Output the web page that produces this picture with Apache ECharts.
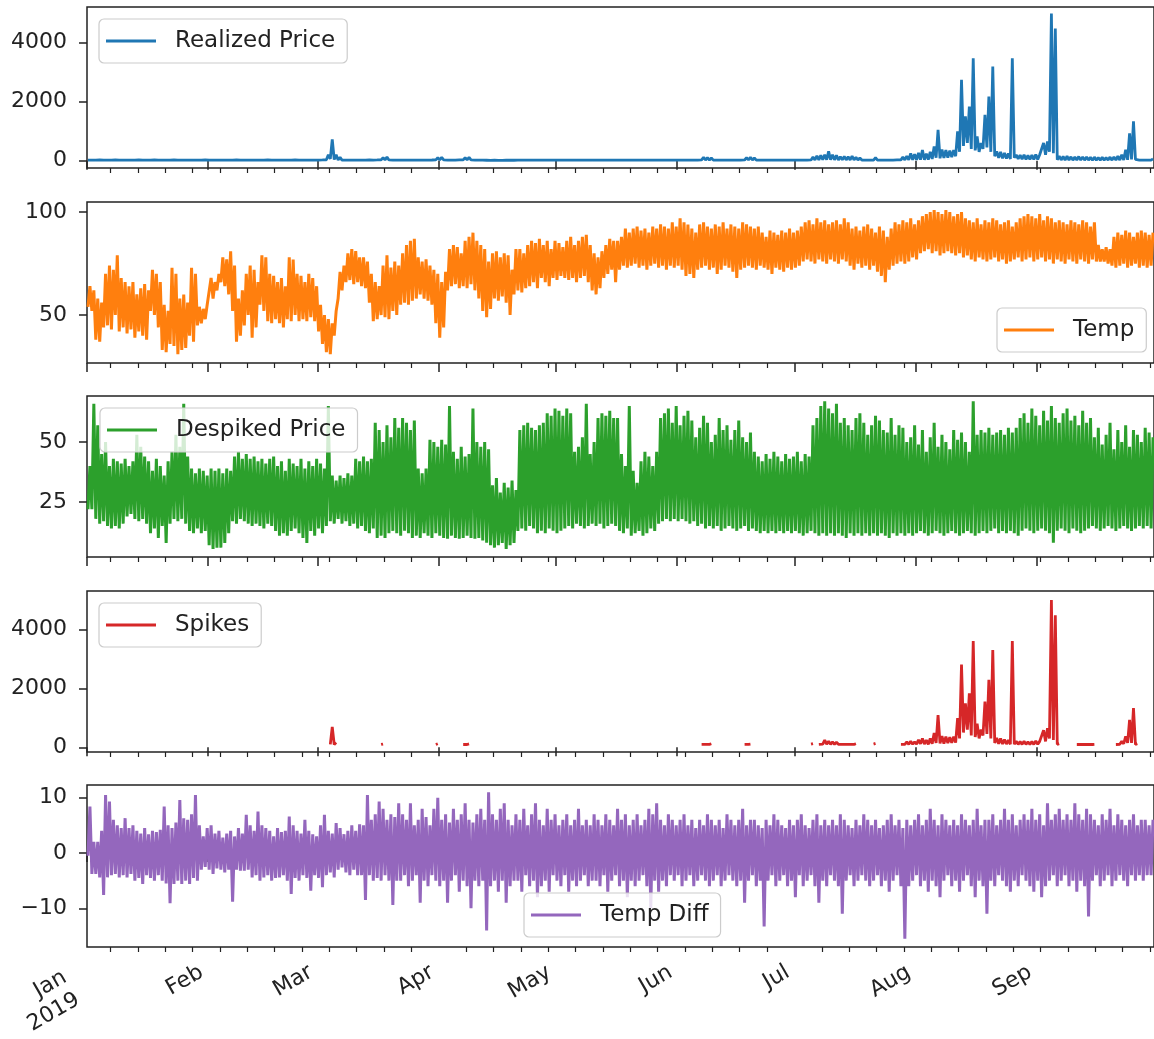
<!DOCTYPE html>
<html><head><meta charset="utf-8">
<script src="https://cdn.jsdelivr.net/npm/echarts@6/dist/echarts.min.js"></script>
<style>html,body{margin:0;padding:0;background:#fff}#c{width:1154px;height:1039px}</style>
</head><body><div id="c"></div>
<script>
// ---- axis ticks (day index from 1 Jan 2019) ----
const monthDays = [0,31,59,90,120,151,181,212,243];
const monthLabels = ['Jan\n2019','Feb','Mar','Apr','May','Jun','Jul','Aug','Sep'];
const firstMonday = 6;
const lastDay = 273;

// ---- Realized Price: daily low / high ----
const priceLo = [20,18,22,25,19,17,21,24,20,18, 22,19,17,23,20,18,21,25,22,19, 18,20,23,21,19,17,22,20,18,21,
24,20,18,19,22,21,18,20,23,19, 17,20,22,18,21,19,23,20,18,22, 20,18,21,23,19,17,20,22,19,21,
25,30,60,40,25,20,18,21,19,22, 20,18,23,21,24,28,30,25,20,19, 18,21,20,19,22,20,18,21,23,26,
28,24,20,19,22,25,28,30,24,20, 18,16,14,12,15,13,12,14,16,15, 17,18,16,19,18,17,19,18,20,17,
18,19,17,18,20,19,18,17,19,18, 17,18,19,18,17,19,20,18,17,18, 19,18,17,18,19,20,18,19,20,18,
19,18,19,20,21,19,22,25,24,22, 20,19,18,20,21,19,18,20,24,25, 22,20,19,18,20,19,18,20,19,18,
19,20,18,19,20,24,26,28,30,32, 30,28,26,28,27,26,24,22,21,20, 19,22,20,19,18,20,22,24,26,28,
30,32,30,35,32,34,60,100,80,90, 100,120,150,300,500,600,400,350,300,400, 450,300,150,100,80,70,60,100,60,50,
45,40,42,45,150,200,300,250,30,25, 20,21,19,20,18,19,20,18,19,20, 19,20,18,19,21,25,30,40,45,22, 20,19,18];
const priceHi = [70,60,55,65,60,70,58,62,66,60, 58,65,70,62,60,55,68,64,60,58, 62,70,75,66,60,64,72,68,60,62,
65,60,58,70,66,62,60,64,70,66, 60,58,62,66,70,64,60,58,62,65, 60,62,70,64,60,58,66,62,60,75,
90,200,720,200,110,70,62,60,58,64, 60,62,66,70,80,100,120,90,70,66, 62,60,58,64,70,66,62,60,75,100,
110,80,66,70,64,80,100,110,85,70, 66,62,60,64,58,62,60,58,62,60, 58,60,62,60,64,60,58,62,60,58,
60,62,58,60,64,62,60,58,60,62, 58,60,62,60,58,62,64,60,58,60, 62,60,58,64,60,62,66,60,58,62,
64,60,62,66,70,64,80,110,100,90, 70,66,64,68,70,66,64,70,100,110, 90,70,66,64,68,70,66,64,70,68,
66,70,68,72,80,120,160,180,200,315, 200,180,135,140,130,150,110,90,80,75, 70,100,80,75,70,72,80,90,120,150,
250,220,260,360,240,300,480,1048,380,360, 340,360,990,2738,1500,1830,3470,820,600,1555,
2175,3190,315,300,260,240,3470,200,190,200, 180,190,210,200,600,650,4990,4480,150,140,
150,130,120,140,130,120,110,120,100,110, 100,120,130,150,200,370,930,1330,100,80, 70,60,60];

// ---- Temp: daily low / high ----
const tempLo = [54,52,38,37,44,45,43,50,42,44, 41,43,39,42,40,38,52,50,44,33, 32,36,35,31,33,34,40,37,45,46,
48,55,58,62,66,64,60,52,37,40, 45,50,39,44,55,52,47,46,48,46, 44,48,47,50,47,48,47,49,47,42,
36,32,31,40,58,62,66,67,65,66, 64,63,56,47,48,50,49,48,52,50, 55,56,55,57,58,60,58,57,55,46,
39,44,62,64,65,63,64,63,65,62, 58,52,49,53,58,57,59,56,50,60, 62,61,63,64,66,63,68,66,64,68,
67,69,68,67,68,66,68,69,66,62, 60,63,68,70,72,66,72,74,73,74, 75,73,74,72,74,75,73,74,72,74,
73,74,72,69,70,68,72,73,74,72, 73,70,72,74,73,71,68,72,73,74, 73,72,74,73,72,70,73,72,71,73,
72,73,74,76,77,76,75,77,76,75, 77,76,75,77,76,74,72,75,73,74, 72,74,71,69,66,72,74,75,76,75,
76,78,77,80,81,82,80,81,79,80, 81,80,79,80,78,79,77,76,78,77, 76,77,78,76,77,75,76,77,78,76,
77,78,76,77,78,76,77,75,77,76, 75,77,76,75,77,76,75,77,76,76, 76,75,74,73,74,75,73,74,75,73, 74,73,74];
const tempHi = [64,62,58,56,70,74,72,79,68,66, 64,66,60,63,65,62,72,70,66,55, 52,73,70,58,60,56,73,70,54,53,
55,68,66,70,78,77,81,74,58,62, 70,74,72,66,79,78,70,69,66,68, 64,78,77,70,69,66,70,68,64,55,
50,48,46,52,71,74,80,82,81,78, 78,76,70,66,64,74,79,73,76,74, 80,84,86,87,78,76,77,74,72,70,
66,71,82,84,83,80,86,88,90,86, 84,82,76,80,81,78,80,79,72,82, 82,80,84,86,85,87,84,86,82,86,
85,83,86,88,84,86,88,89,84,80, 78,81,84,87,86,86,88,92,90,92, 93,91,92,90,93,92,94,93,92,95,
93,97,95,94,92,90,94,95,93,92, 94,93,95,92,94,93,92,95,94,93, 92,93,90,88,91,90,89,91,90,92,
90,91,93,95,96,94,97,95,96,94, 95,96,94,97,95,92,93,91,93,94, 92,90,93,91,88,92,95,94,96,95,
97,94,96,98,99,100,101,100,99,101, 100,98,99,100,97,96,95,97,94,96, 95,97,96,94,95,96,93,95,97,98,
99,98,97,99,96,98,97,95,96,95, 94,96,95,94,96,95,93,95,84,82, 83,82,88,90,89,91,90,88,90,91, 90,89,90];

// ---- Despiked Price: daily low / high ----
const despLo = [22,22,18,16,17,15,14,15,14,16, 19,20,18,17,18,16,12,14,10,15, 8,16,18,17,18,16,13,12,14,12,
13,7,5.5,6,6,8,12,17,16,18, 17,16,15,16,15,14,16,15,13,11, 12,11,13,14,12,10,8,13,11,14,
12,15,17,16,18,16,17,15,16,14, 15,13,12,14,10,11,10,12,13,12, 11,13,12,10,11,10,12,11,10,12,
11,10,9.7,11,10,9.7,10,11,10,9.7, 10,9,8,7,6,7,8,5.5,7,8, 13,14,13,15,14,12,13,12,14,13,
12,13,14,15,14,16,15,14,15,16, 15,16,14,15,16,15,13,12,14,11, 12,13,11,12,14,13,16,17,18,17,
18,17,18,17,16,17,15,16,14,15, 14,15,13,14,15,14,13,14,15,13, 14,13,12,13,12,13,12,13,12,13,
12,13,12,11,12,13,12,11,12,11, 12,11,12,11,10,12,11,12,11,12, 11,12,11,12,11,10,12,11,12,11,
12,11,12,13,12,11,12,13,12,11, 12,13,12,11,12,13,12,11,12,13, 12,13,14,12,13,12,13,12,11,13,
14,13,12,13,14,13,12,8,13,14, 13,12,14,13,12,13,14,15,14,13, 14,15,14,13,14,15,14,13,14,15, 14,15,14];
const despHi = [40,66,57,45,50,40,43,42,41,43, 40,42,53,48,44,42,38,43,40,36, 42,46,53,48,66,44,39,37,39,38,
36,39,38,39,37,39,38,44,46,43, 45,43,44,42,43,41,43,44,40,42, 38,43,41,40,43,39,42,40,43,41,
39,65,36,34,36,35,37,36,43,42, 44,42,43,58,55,50,57,52,60,56, 60,58,55,59,39,37,39,51,50,48,
51,49,65,46,43,48,44,45,64,50, 48,50,47,32,35,29,33,31,34,30, 55,57,58,56,55,57,58,62,61,64,
63,61,64,62,46,48,52,66,45,50, 60,62,61,63,60,60,45,40,65,38, 33,42,46,44,40,46,60,62,64,58,
65,57,61,63,59,52,56,61,58,50, 53,60,55,57,51,55,59,52,50,54, 46,44,42,45,43,46,44,42,45,43,
44,46,42,45,44,57,60,65,67,64, 62,66,58,60,57,55,60,62,58,53, 57,61,59,55,54,60,53,57,56,50,
52,57,49,55,46,52,58,48,53,50, 47,55,51,54,50,46,67,53,55,54, 56,53,54,55,53,56,54,56,60,62,
58,64,61,57,63,59,65,60,58,62, 64,59,61,57,63,58,60,52,56,49, 53,58,47,55,50,57,48,55,53,50, 56,54,52];

// ---- Spikes: days that carry a spike, with daily low / high ----
const spikeDays = [62,63,75,89,96,97,157,158,159,168,169,185,187,188,189,190,191,192,193,194,195,196,201,
208,209,210,211,212,213,214,215,216,217,218,219,220,221,222,223,224,225,226,227,228,229,230,231,232,233,234,235,236,
237,238,239,240,241,242,243,244,245,246,247,248,253,254,255,256,257,263,264,265,266,267,268];
const spikeLo = [100,95,95,95,95,95,100,100,100,100,100,110,100,110,105,100,100,100,100,100,100,100,110,
100,100,100,105,110,120,110,100,120,150,130,120,140,150,160,300,500,600,400,350,300,400,450,300,150,120,110,110,100,
100,100,100,100,100,100,100,150,200,300,250,100,95,95,95,95,95,95,100,120,150,150,100];
const spikeHi = [694,160,110,120,110,115,130,150,120,120,110,126,140,244,200,180,170,150,160,140,150,120,130,
150,180,200,180,250,300,240,300,480,1094,380,360,340,360,990,2805,1490,1830,3600,800,600,1550,2290,3300,315,300,260,240,3600,
200,190,200,180,190,210,200,575,650,4990,4480,120,100,110,105,110,100,110,200,370,930,1330,120];

// ---- Temp Diff: daily low / high ----
const tdLo = [-0.5,-3.8,-3.8,-4.4,-7.6,-4.4,-4,-3.8,-4.4,-4, -4.4,-3.8,-5,-4.5,-5.6,-4,-4.5,-5,-4,-5,
-5.5,-9.1,-5.6,-5,-5.6,-5,-5.6,-4.5,-5,-3, -2.5,-3,-3.8,-2.8,-3,-3.5,-3,-8.8,-3,-3.2,
-3.2,-3,-4.4,-4,-5,-4.4,-4,-5,-4.5,-4.4, -4,-5,-7.4,-4.5,-5,-4,-4.5,-6.8,-4,-4.5,
-6.2,-4,-3.5,-4.4,-3,-2.6,-3.5,-4,-3,-4, -4,-8.5,-4,-5,-4.5,-5,-4,-5,-9.4,-5,
-5,-4,-6,-5,-4,-9,-5,-6,-4,-5, -6,-5,-9,-5,-4,-7,-5,-6,-10,-5, -6,-5,-14,-6,-5,-7,-5,-9,-6,-5,
-5,-7,-4,-6,-5,-8,-6,-5,-7,-4, -5,-6,-4,-7,-5,-6,-5,-4,-6,-5, -5,-6,-4,-7,-5,-4,-6,-5,-8,-5,
-6,-5,-4,-6,-10,-5,-7,-5,-6,-4, -5,-4,-6,-5,-4,-6,-5,-4,-5,-6, -5,-4,-6,-5,-4,-5,-6,-5,-9,-5,
-4,-6,-5,-13.3,-5,-4,-6,-5,-4,-6, -5,-8,-4,-6,-5,-4,-6,-9,-5,-6, -4,-5,-6,-11,-5,-4,-6,-5,-4,-5,
-6,-5,-4,-6,-5,-7,-5,-4,-6,-15.5, -6,-5,-4,-6,-5,-7,-5,-6,-8,-5, -4,-6,-5,-7,-5,-4,-6,-8,-5,-6,
-11,-5,-6,-4,-5,-6,-7,-5,-6,-4, -5,-6,-7,-5,-8,-6,-5,-4,-6,-5, -4,-6,-5,-7,-5,-6,-11.5,-5,-4,-6,
-5,-4,-6,-5,-4,-5,-6,-4,-5,-4, -5,-4,-4];
const tdHi = [8.4,2,2,4,10.5,9.3,6,5,4.5,6.3, 4.5,5,4,3.5,4.5,3.4,4,3.8,4.2,8.4, 5,4.5,5.5,9.6,6.3,6,7,10.5,5,3,
4.5,5,3.5,4,2.8,3.5,4,3,4.5,3.5, 6.9,5,4,7.5,5,4.5,4,3,4.5,3.8, 4,6.6,5,4,3.5,6,4,3.4,3,5,
6.9,4,3.5,5.4,4.5,3.4,4,5,4,5.2, 5,10.5,6,7,9.3,8,6,7,6.5,9, 7,6,9,5,6,8,6.5,5,8,10,
6,7,5.5,8,6,7,9,6,5.5,7, 8,6,11,7,6,8,9,6,5,7, 6,8,5,7,9,6,5,8,6,7,
5,6,7,5,6,8,5,6,5,7, 6,5,7,6,5,8,6,7,5,6, 7,5,6,8,7,9,6,5,7,6,
5,6,7,5,6,4.5,6,5,7,6, 5,6,4.5,7,6,5,6,8,5,6, 6,5,4.5,6,5,7,6,5,4.5,6,
5,6,7,5,4.5,6,7,5,6,5, 6,5,7,6,5,4.5,6,5,7,6, 5,6,4.5,5,6,7,5,6,4.5,6,
5,6,7,5,6,8,6,5,7,6, 5,6,5,7,6,5,6,8,5,6, 6,7,5,6,8,6,7,5,6,7,
6,8,6,7,5,9,6,7,8,6, 7,6,9,7,6,8,7,6,5,7, 6,8,5,7,6,5,6,7,5,6, 6,5,6];

// ---- build line data: each day contributes its low then its high ----
function zig(lo, hi) {
  const out = [];
  for (let d = 0; d < lo.length; d++) { out.push([d + 0.25, lo[d]]); out.push([d + 0.75, hi[d]]); }
  return out;
}
function zigDays(days, lo, hi) {
  const out = [];
  for (let i = 0; i < days.length; i++) {
    if (i > 0 && days[i] !== days[i-1] + 1) out.push([days[i-1] + 1, null]);
    out.push([days[i] + 0.25, lo[i]]); out.push([days[i] + 0.75, hi[i]]);
  }
  return out;
}
const weekly = [];
for (let d = firstMonday; d <= lastDay; d += 7) if (monthDays.indexOf(d) < 0) weekly.push(d);
const firstLines = monthLabels[0].split('\n');

const FONT = 'DejaVu Sans';
const TXT = '#222';
const tops = [7, 202, 396, 591, 785];
const heights = [161, 161, 161, 161, 164];
const yCfg = [
  {min: -248, max: 5208, ticks: [0, 2000, 4000]},
  {min: 26.7, max: 104.9, ticks: [50, 100]},
  {min: 2.1, max: 69.2, ticks: [25, 50]},
  {min: -160, max: 5300, ticks: [0, 2000, 4000]},
  {min: -17, max: 12.3, ticks: [-10, 0, 10]}
];
const names = ['Realized Price', 'Temp', 'Despiked Price', 'Spikes', 'Temp Diff'];
const colors = ['#1f77b4', '#ff7f0e', '#2ca02c', '#d62728', '#9467bd'];
const widths = [2.8, 3, 3, 2.8, 3];
const datas = [zig(priceLo, priceHi), zig(tempLo, tempHi), zig(despLo, despHi), zigDays(spikeDays, spikeLo, spikeHi), zig(tdLo, tdHi)];
const legendPos = [[99, 19], [997, 308], [100, 408], [99, 603], [524, 893]];

const labelBase = {rotate: 30, align: 'right', verticalAlign: 'bottom', fontFamily: FONT, fontSize: 22, color: TXT, lineHeight: 26};
const grid = [], xAxis = [], yAxis = [], series = [], legend = [];
for (let i = 0; i < 5; i++) {
  grid.push({left: 87, width: 1074, top: tops[i], height: heights[i], show: true, borderColor: '#222', borderWidth: 1.5, backgroundColor: 'transparent'});
  xAxis.push({type: 'value', gridIndex: i, min: 0, max: lastDay, position: 'bottom',
    axisLine: {show: false}, splitLine: {show: false},
    axisTick: {show: true, length: 9, customValues: monthDays, lineStyle: {color: '#222', width: 1.5}},
    axisLabel: Object.assign({show: i === 4, customValues: monthDays.slice(1), margin: 35,
      formatter: v => { const k = monthDays.indexOf(Math.round(v)); return k >= 0 ? monthLabels[k] : ''; }}, labelBase)
  });
  xAxis.push({type: 'value', gridIndex: i, min: 0, max: lastDay, position: 'bottom',
    axisLine: {show: false}, splitLine: {show: false}, axisLabel: {show: false},
    axisTick: {show: true, length: 5, customValues: weekly, lineStyle: {color: '#222', width: 1.2}}
  });
  yAxis.push({type: 'value', gridIndex: i, min: yCfg[i].min, max: yCfg[i].max,
    axisLine: {show: false}, splitLine: {show: false},
    axisTick: {show: true, length: 8, customValues: yCfg[i].ticks, lineStyle: {color: '#222', width: 1.5}},
    axisLabel: {customValues: yCfg[i].ticks, margin: 20, fontFamily: FONT, fontSize: 22, color: TXT,
      formatter: v => String(v).replace('-', '\u2212')}
  });
  series.push({name: names[i], type: 'line', xAxisIndex: 2 * i, yAxisIndex: i, data: datas[i],
    showSymbol: false, symbol: 'none', connectNulls: false, animation: false, silent: true,
    lineStyle: {color: colors[i], width: widths[i]}, itemStyle: {color: colors[i]}});
  legend.push({data: [names[i]], left: legendPos[i][0], top: legendPos[i][1], orient: 'horizontal',
    icon: 'rect', itemWidth: 50, itemHeight: 3, padding: [9, 12, 9, 7],
    backgroundColor: 'rgba(255,255,255,0.8)', borderColor: '#cccccc', borderWidth: 1.2, borderRadius: 5,
    selectedMode: false,
    textStyle: {fontFamily: FONT, fontSize: 23, color: TXT, lineHeight: 26, padding: [0, 0, 0, 14]}});
}
// first month label: two lines, each stepped along the rotated text frame
xAxis.push({type: 'value', gridIndex: 4, min: 0, max: lastDay, position: 'bottom',
  axisLine: {show: false}, splitLine: {show: false}, axisTick: {show: false},
  axisLabel: Object.assign({customValues: [monthDays[0]], margin: 31, padding: [0, 18, 0, 0], formatter: () => firstLines[0]}, labelBase)});
xAxis.push({type: 'value', gridIndex: 4, min: 0, max: lastDay, position: 'bottom',
  axisLine: {show: false}, splitLine: {show: false}, axisTick: {show: false},
  axisLabel: Object.assign({customValues: [monthDays[0]], margin: 61, padding: [0, 3, 0, 0], formatter: () => firstLines[1]}, labelBase)});

const chart = echarts.init(document.getElementById('c'), null, {renderer: 'canvas'});
chart.setOption({animation: false, backgroundColor: '#fff', grid, xAxis, yAxis, series, legend});
</script>
</body></html>
